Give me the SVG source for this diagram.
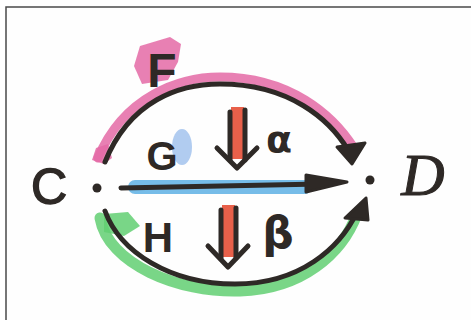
<svg xmlns="http://www.w3.org/2000/svg" width="471" height="320" viewBox="0 0 471 320">
<style>
.ink{fill:none;stroke:#2e2926;stroke-width:5;stroke-linecap:round;stroke-linejoin:round}
.head{fill:#2e2926;stroke:#2e2926;stroke-width:3;stroke-linejoin:round}
.wash{fill:none;stroke-linecap:round;stroke-linejoin:round;opacity:0.85}
.lbl{font-family:"Liberation Sans",Arial,sans-serif;font-weight:bold;fill:#2e2926;text-anchor:middle}
.greek{font-family:"DejaVu Sans",sans-serif;font-weight:bold;fill:#2e2926;text-anchor:middle}
.objC{font-family:"Liberation Sans",Arial,sans-serif;fill:#2e2926;stroke:#2e2926;stroke-width:1.5;text-anchor:middle}
.objD{font-family:"Liberation Serif","Times New Roman",serif;font-style:italic;fill:#2e2926;stroke:#2e2926;stroke-width:1;text-anchor:middle}
.cell{fill:#e8604a}
</style>
<rect x="0" y="0" width="471" height="320" fill="#ffffff"/>
<rect x="6" y="7" width="470" height="320" fill="#fefefe" stroke="#4a4a4a" stroke-width="1.5"/>

<g id="washes">
  <path d="M140,46 L170,37 L181,44 L178,62 L168,80 L142,84 L134,66 Z" fill="#e46aa6" opacity="0.85"/>
  <path d="M92,160 L96,148 L108,144 L112,158 L104,164 Z" fill="#e46aa6" opacity="0.85"/>
  <path class="wash" d="M98,158 C124,96 180,77 220,77 C290,77 333,115 354,148" stroke="#e46aa6" stroke-width="9"/>
  <ellipse cx="182" cy="147" rx="10" ry="18" fill="#a9c7ee" opacity="0.9"/>
  <path class="wash" d="M135,187 L305,187" stroke="#5eb0e4" stroke-width="14"/>
  <path class="wash" d="M100,218 C108,264 178,293 240,291 C302,289 342,254 357,214" stroke="#62cf72" stroke-width="11"/>
  <path d="M104,214 L128,212 L140,226 L124,236 L104,232 Z" fill="#62cf72" opacity="0.85"/>
</g>

<g id="node-C">
  <text class="objC" x="49" y="204" font-size="50">C</text>
  <circle cx="97" cy="188" r="4.5" fill="#2e2926"/>
</g>
<g id="node-D">
  <circle cx="370" cy="180" r="4.5" fill="#2e2926"/>
  <text class="objD" x="423" y="195" font-size="60">D</text>
</g>

<g id="connectors">
  <g id="edge-F">
    <path class="ink" d="M105,162 C130,100 180,84 220,84 C290,84 330,120 348,150"/>
    <path class="head" d="M337,147 L365,143 L352,164 Z"/>
  </g>
  <g id="edge-G">
    <path class="ink" d="M121,188 L320,184"/>
    <path class="head" d="M306,175 L347,182 L306,192 Z"/>
  </g>
  <g id="edge-H">
    <path class="ink" d="M105,211 C120,252 170,284 235,284 C300,284 340,248 357,212"/>
    <path class="head" d="M345,218 L368,220 L366,198 Z"/>
  </g>
  <g id="cell-alpha">
    <rect class="cell" x="231" y="107" width="13" height="52"/>
    <path class="ink" d="M230,112 L230,160 M245,110 L245,160" stroke-width="4"/>
    <path class="ink" d="M217,148 L237,168 L257,148"/>
  </g>
  <g id="cell-beta">
    <rect class="cell" x="222" y="205" width="13" height="52"/>
    <path class="ink" d="M221,210 L221,258 M236,208 L236,258" stroke-width="4"/>
    <path class="ink" d="M208,246 L228,267 L248,246"/>
  </g>
</g>

<g id="labels">
  <text class="lbl" x="162" y="87" font-size="48">F</text>
  <text class="lbl" x="162" y="170" font-size="40">G</text>
  <text class="lbl" x="158" y="252" font-size="42">H</text>
  <text class="greek" x="279" y="152" font-size="38">α</text>
  <text class="greek" x="278" y="248" font-size="44">β</text>
</g>
</svg>
